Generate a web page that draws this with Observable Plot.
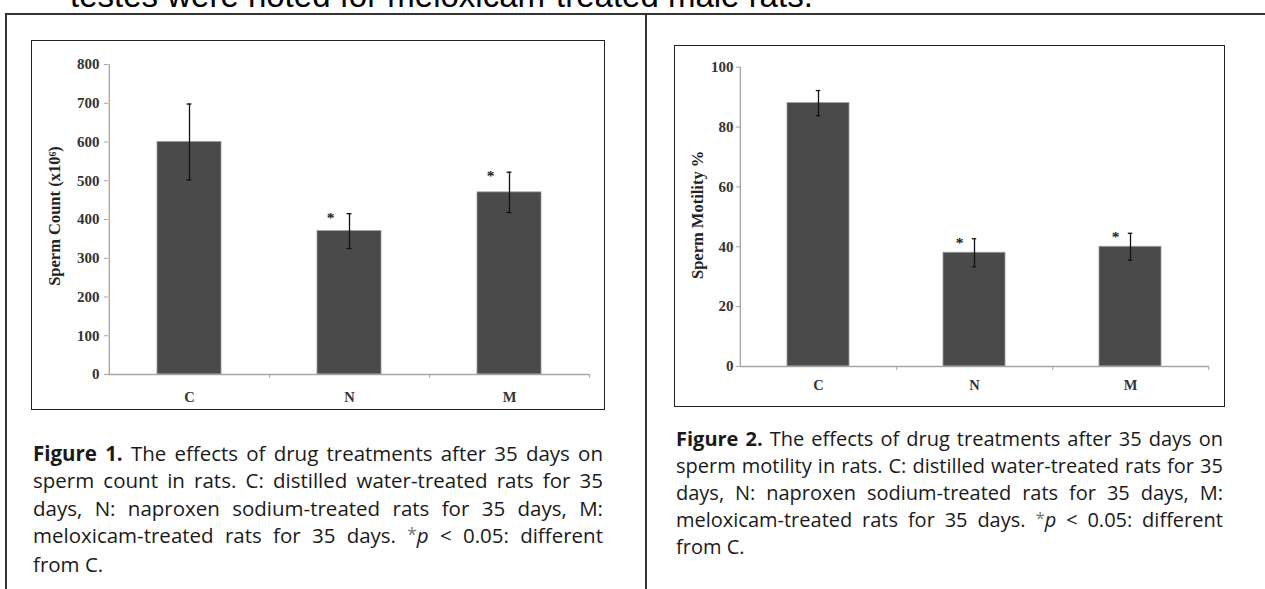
<!DOCTYPE html>
<html><head><meta charset="utf-8">
<script src="https://cdn.jsdelivr.net/npm/d3@7"></script>
<script src="https://cdn.jsdelivr.net/npm/@observablehq/plot@0.6"></script>
<style>
html,body{margin:0;padding:0;background:#fff;}
body{width:1265px;height:589px;position:relative;overflow:hidden;}
#toptext{position:absolute;left:70px;top:-21px;font:33px/33px "Liberation Sans",Arial,sans-serif;color:#000;white-space:nowrap;}
.rule{position:absolute;background:#333;}
.frame{position:absolute;box-sizing:border-box;border:1.5px solid #222;}
.chart{position:absolute;}
.chart svg{display:block;max-width:none;}
.cap{position:absolute;font-family:"Open Sans",sans-serif;color:#1a1a1a;}
.cap .ln{display:flex;justify-content:space-between;white-space:nowrap;}
.cap .ln.last{display:block;}
.cap b{font-weight:700;}
.cap .ast{color:#777;font-size:0.85em;position:relative;top:-0.15em;}
</style>
</head><body>
<div id="toptext">testes were noted for meloxicam-treated male rats.</div>
<div class="rule" style="left:5px;top:13px;width:1260px;height:1.5px"></div>
<div class="rule" style="left:5px;top:13px;width:1.5px;height:580px"></div>
<div class="rule" style="left:645px;top:13px;width:1.5px;height:580px"></div>
<div class="frame" style="left:31px;top:40px;width:574px;height:370px"></div>
<div class="frame" style="left:674px;top:45px;width:551px;height:362px"></div>
<div class="chart" id="c1" style="left:32px;top:41px;width:572px;height:368px"></div>
<div class="chart" id="c2" style="left:675px;top:46px;width:549px;height:360px"></div>
<div class="cap" id="cap1" style="left:33px;top:439.8px;width:570px;font-size:20.5px;line-height:27.5px"></div>
<div class="cap" id="cap2" style="left:676px;top:426.3px;width:547px;font-size:20px;line-height:26.75px"></div>
<script>
// ---- data ----
const groups = ["C", "N", "M"];
const countMean = [600, 370, 470];
const countErr = [98, 45, 52];
const motilityMean = [88, 38, 40];
const motilityErr = [4.2, 4.7, 4.5];
const significant = [false, true, true];
const countTicks = [0, 100, 200, 300, 400, 500, 600, 700, 800];
const motilityTicks = [0, 20, 40, 60, 80, 100];
const countLabel = "Sperm Count (x10\u2076)";
const motilityLabel = "Sperm Motility %";

const caption1 = [
  ["<b>Figure</b>", "<b>1.</b>", "The", "effects", "of", "drug", "treatments", "after", "35", "days", "on"],
  ["sperm", "count", "in", "rats.", "C:", "distilled", "water-treated", "rats", "for", "35"],
  ["days,", "N:", "naproxen", "sodium-treated", "rats", "for", "35", "days,", "M:"],
  ["meloxicam-treated", "rats", "for", "35", "days.", "<span class='ast'>*</span><i>p</i>", "&lt;", "0.05:", "different"],
  ["from", "C."]
];
const caption2 = [
  ["<b>Figure</b>", "<b>2.</b>", "The", "effects", "of", "drug", "treatments", "after", "35", "days", "on"],
  ["sperm", "motility", "in", "rats.", "C:", "distilled", "water-treated", "rats", "for", "35"],
  ["days,", "N:", "naproxen", "sodium-treated", "rats", "for", "35", "days,", "M:"],
  ["meloxicam-treated", "rats", "for", "35", "days.", "<span class='ast'>*</span><i>p</i>", "&lt;", "0.05:", "different"],
  ["from", "C."]
];

function chart(o) {
  const data = groups.map((g, i) => ({
    g, mean: o.mean[i], lo: o.mean[i] - o.err[i], hi: o.mean[i] + o.err[i], sig: significant[i]
  }));
  const innerW = o.width - o.ml - o.mr;
  const innerH = o.height - o.mt - o.mb;
  const step = innerW / groups.length;
  const bw = step * 0.4;
  const cap = (bw - 5) / 2;
  return Plot.plot({
    width: o.width, height: o.height,
    marginLeft: o.ml, marginRight: o.mr, marginTop: o.mt, marginBottom: o.mb,
    style: {fontFamily: '"Liberation Serif","Times New Roman",serif', background: "transparent", color: "#333", overflow: "visible"},
    x: {domain: groups, paddingInner: 0.6, paddingOuter: 0.3, axis: null},
    y: {domain: o.domain, axis: null},
    marks: [
      Plot.barY(data, {x: "g", y: "mean", fill: "#4a4a4a", stroke: "#9a9a9a", strokeWidth: 0.8}),
      Plot.ruleY([o.domain[0]], {stroke: "#a6a6a6", strokeWidth: 1.5}),
      Plot.ruleX([groups[0]], {x: d => d, dx: -step / 2, y1: o.domain[0], y2: o.domain[1], stroke: "#a6a6a6", strokeWidth: 1.3}),
      Plot.tickX(groups, {x: d => d, dx: step / 2, insetTop: innerH, insetBottom: -4, stroke: "#a6a6a6"}),
      Plot.axisY({ticks: o.ticks, tickSize: 4, tickPadding: o.tp, stroke: "#a6a6a6", fill: "#333", fontSize: 15, fontWeight: "bold", label: null}),
      Plot.axisX({tickSize: 0, tickPadding: o.xtp, fill: "#333", fontSize: 14.5, fontWeight: "bold", label: null}),
      Plot.ruleX(data, {x: "g", y1: "lo", y2: "hi", stroke: "#111", strokeWidth: 1.3}),
      Plot.tickY(data, {x: "g", y: "hi", insetLeft: cap, insetRight: cap, stroke: "#111", strokeWidth: 1.3}),
      Plot.tickY(data, {x: "g", y: "lo", insetLeft: cap, insetRight: cap, stroke: "#111", strokeWidth: 1.3}),
      Plot.text(data.filter(d => d.sig), {x: "g", y: "hi", text: () => "*", dx: o.adx, dy: 4, fontSize: 15.5, fontWeight: "bold", fill: "#222"}),
      Plot.text([o.label], {text: d => d, frameAnchor: "left", textAnchor: "middle", lineAnchor: "middle", rotate: -90, dx: o.ldx, dy: o.ldy, fontSize: o.lfs, fontWeight: "bold", fill: "#222"})
    ]
  });
}

document.getElementById("c1").append(chart({
  mean: countMean, err: countErr, ticks: countTicks, domain: [0, 800], label: countLabel,
  width: 572, height: 368, ml: 76, mr: 15, mt: 23, mb: 35, tp: 5, xtp: 17,
  adx: -19, ldx: -54, ldy: -3.5, lfs: 16.5
}));
document.getElementById("c2").append(chart({
  mean: motilityMean, err: motilityErr, ticks: motilityTicks, domain: [0, 100], label: motilityLabel,
  width: 549, height: 360, ml: 65, mr: 15, mt: 20.7, mb: 40, tp: 3, xtp: 13,
  adx: -15, ldx: -43, ldy: -2, lfs: 16.5
}));

function caption(el, lines) {
  lines.forEach((words, i) => {
    const d = document.createElement("div");
    d.className = "ln" + (i === lines.length - 1 ? " last" : "");
    if (i === lines.length - 1) d.innerHTML = words.join(" ");
    else d.innerHTML = words.map(w => "<span>" + w + "</span>").join("");
    el.append(d);
  });
}
caption(document.getElementById("cap1"), caption1);
caption(document.getElementById("cap2"), caption2);
</script>
</body></html>
